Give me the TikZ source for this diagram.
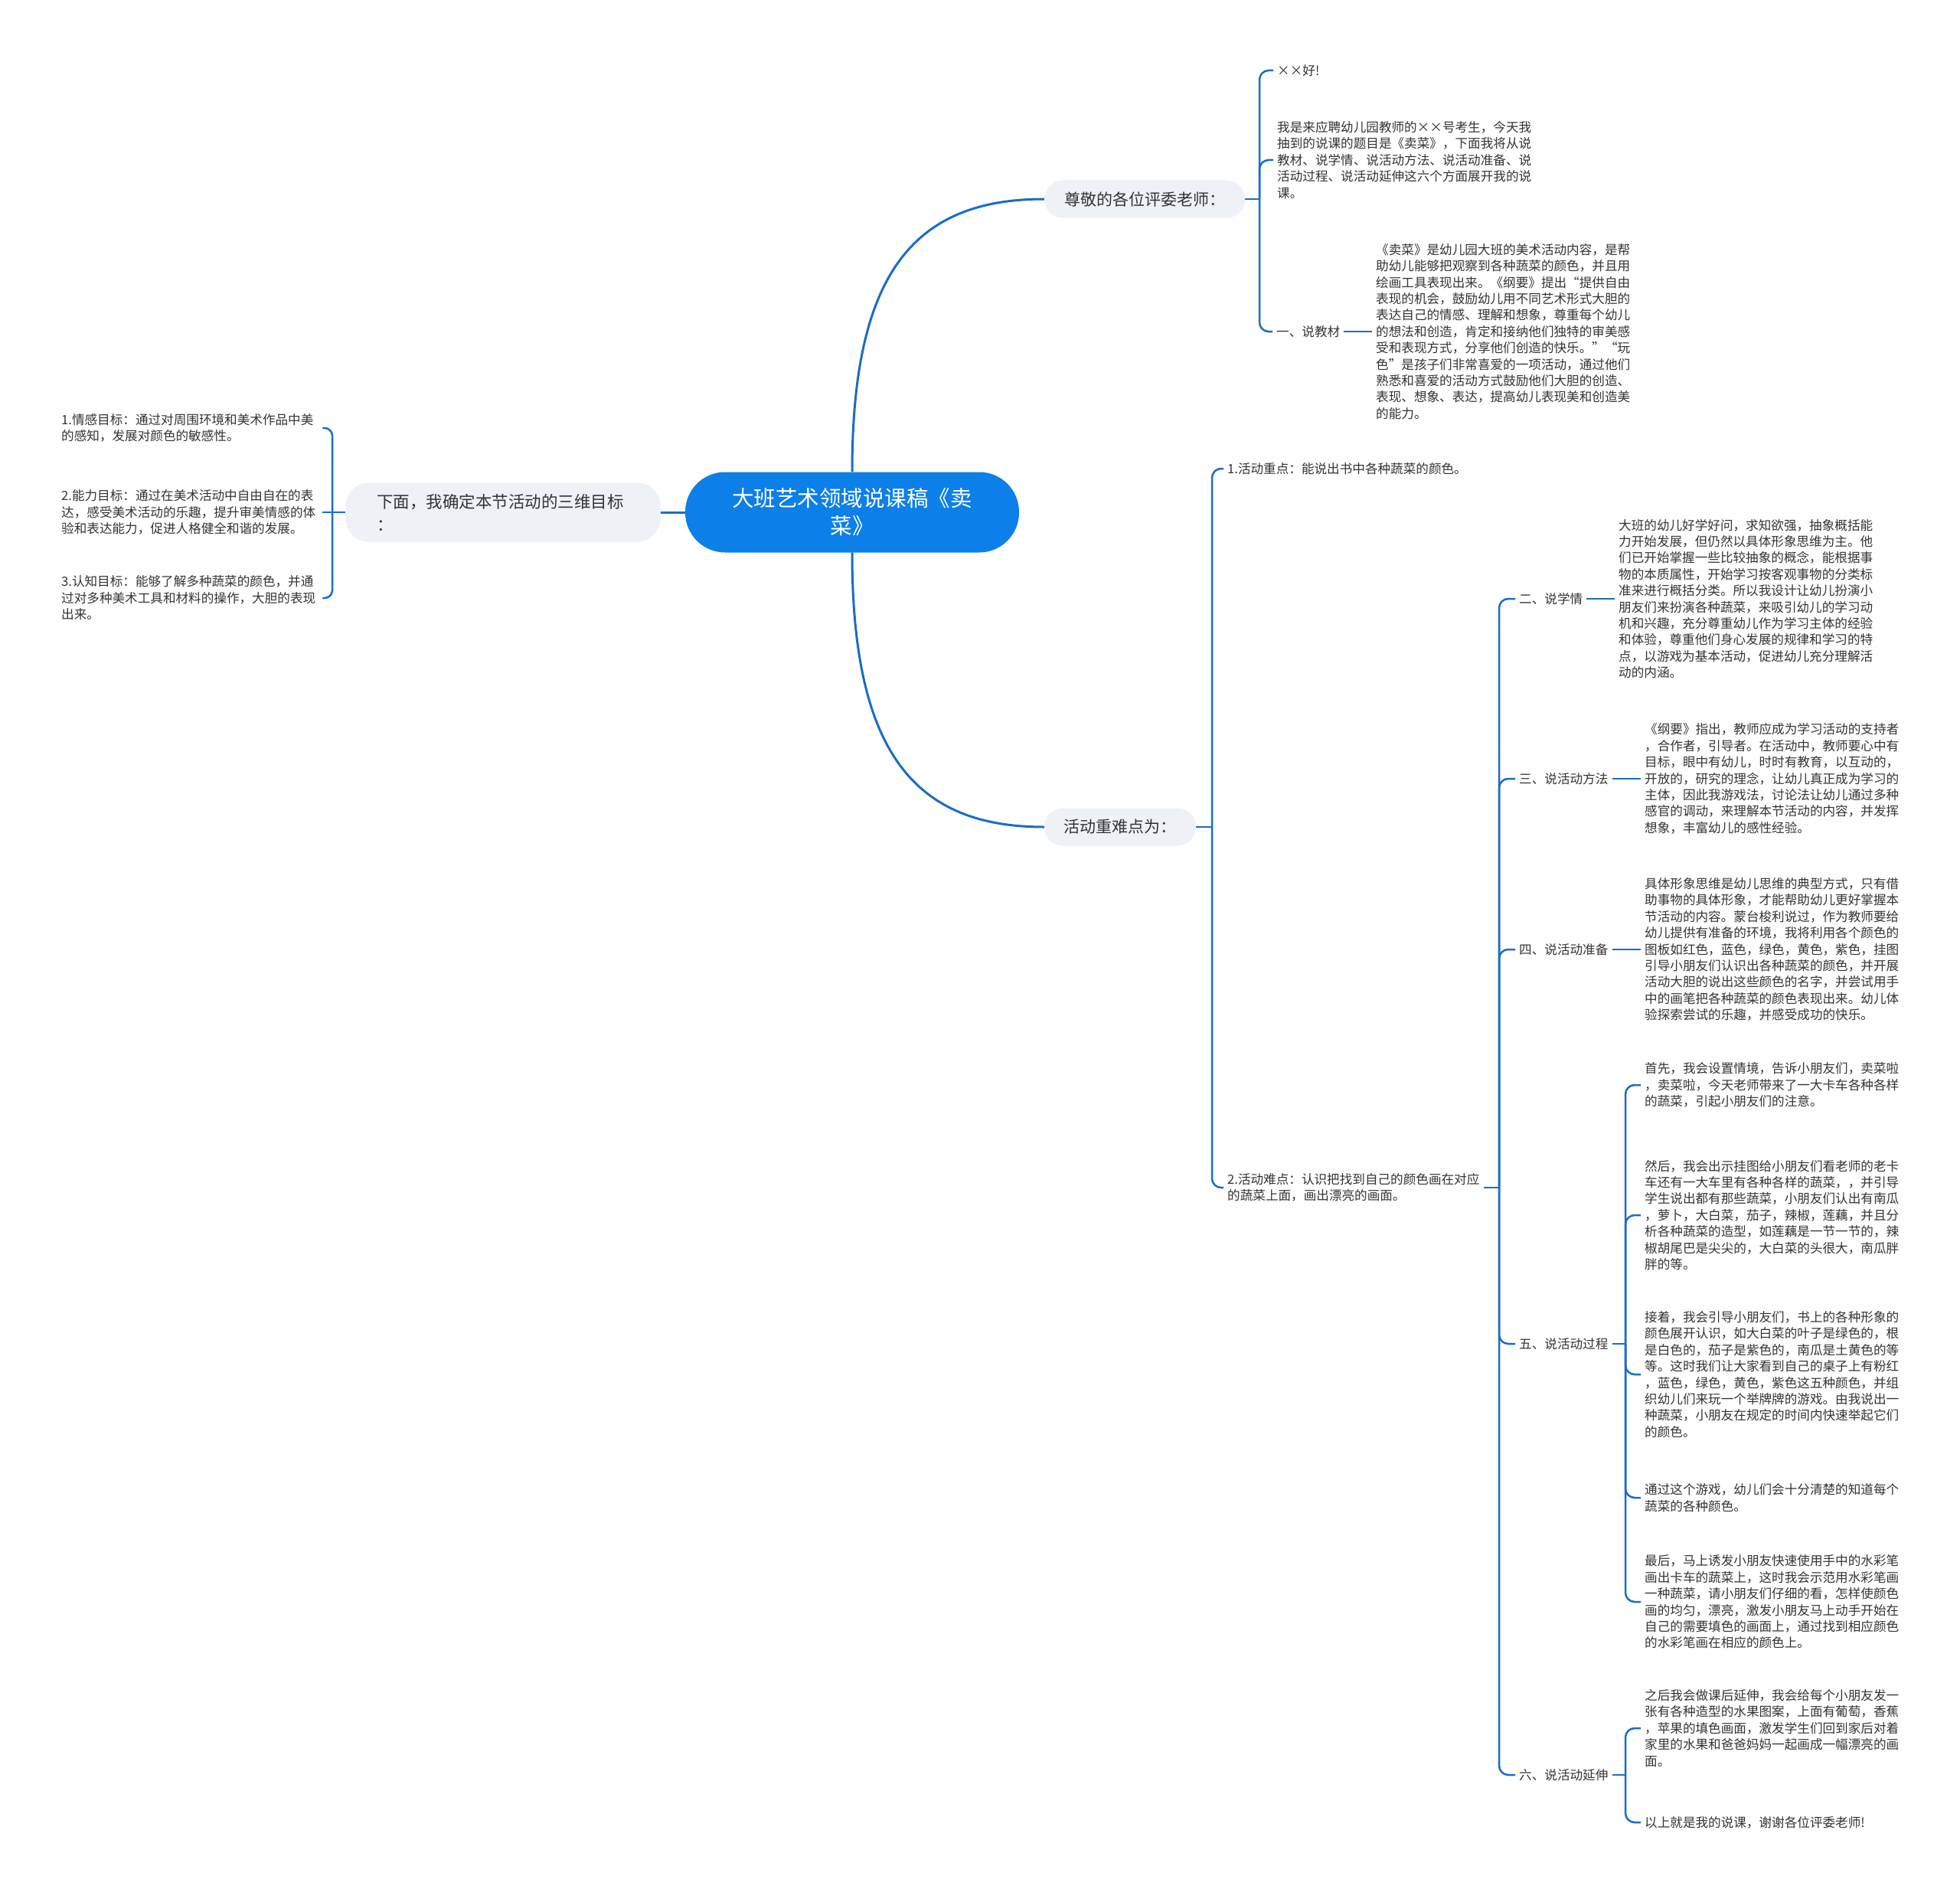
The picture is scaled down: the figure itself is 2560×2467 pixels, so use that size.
\documentclass[tikz,border=0pt]{standalone}
\usepackage{fontspec}
\newfontfamily\cjk{Noto Sans CJK SC}
\usetikzlibrary{calc}
\definecolor{linec}{HTML}{1A6DC6}
\definecolor{rootc}{HTML}{0C7FE8}
\definecolor{boxc}{HTML}{EEF1F6}
\definecolor{txtc}{HTML}{333333}
\begin{document}
\begin{tikzpicture}[x=1pt,y=-1pt,
  root/.style={fill=rootc, text=white, rounded corners=52pt, minimum width=436pt, minimum height=105pt, align=center, inner sep=0pt, font=\cjk\fontsize{28.5}{36}\selectfont},
  hbox/.style={fill=boxc, text=txtc, rounded corners=24pt, minimum height=49pt, inner xsep=0pt, inner ysep=0pt, align=center, font=\cjk\fontsize{21}{28}\selectfont},
  body/.style={text=txtc, align=left, inner xsep=5pt, inner ysep=0pt, anchor=west, font=\cjk\fontsize{16.6}{21.4}\selectfont},
  conn/.style={draw=linec, line width=2.5pt, rounded corners=12pt},
  mainconn/.style={draw=linec, line width=3pt},
]
\fill[white] (0,0) rectangle (2560,2467);
\useasboundingbox (0,0) rectangle (2560,2467);

% central topic
\node[root] (root) at (1113,669) {大班艺术领域说课稿《卖\\菜》};

% main branches
\node[hbox, minimum width=262pt] (t1) at (1495,260) {尊敬的各位评委老师：};
\node[hbox, minimum width=198pt] (t2) at (1463,1080) {活动重难点为：};
\node[hbox, minimum width=411pt, minimum height=77pt, text width=330pt, align=left, rounded corners=30pt, font=\cjk\fontsize{21.5}{30}\selectfont] (goal) at (657,669) {下面，我确定本节活动的三维目标\\：};

\draw[mainconn] (root.north) .. controls +(0,-260) and +(-170,0) .. (t1.west);
\draw[mainconn] (root.south) .. controls +(0,260) and +(-170,0) .. (t2.west);
\draw[mainconn] (root.west) -- (goal.east);

% left: goals
\node[body, text width=336pt] (L1) at (75,559) {1.情感目标：通过对周围环境和美术作品中美\\的感知，发展对颜色的敏感性。};
\node[body, text width=336pt] (L2) at (75,669) {2.能力目标：通过在美术活动中自由自在的表\\达，感受美术活动的乐趣，提升审美情感的体\\验和表达能力，促进人格健全和谐的发展。};
\node[body, text width=336pt] (L3) at (75,781) {3.认知目标：能够了解多种蔬菜的颜色，并通\\过对多种美术工具和材料的操作，大胆的表现\\出来。};
\coordinate (gs) at (434,669);
\draw[conn] (goal.west) -- (gs);
\draw[conn, rounded corners=10pt] (gs) |- (L1.east);
\draw[conn, rounded corners=10pt] (gs) -- (L2.east);
\draw[conn, rounded corners=10pt] (gs) |- (L3.east);

% top right group
\node[body] (A1) at (1663,92) {××好!};
\node[body] (A2) at (1663,209) {我是来应聘幼儿园教师的××号考生，今天我\\抽到的说课的题目是《卖菜》，下面我将从说\\教材、说学情、说活动方法、说活动准备、说\\活动过程、说活动延伸这六个方面展开我的说\\课。};
\node[body] (A3) at (1662,433) {一、说教材};
\node[body] (A4) at (1792,433) {《卖菜》是幼儿园大班的美术活动内容，是帮\\助幼儿能够把观察到各种蔬菜的颜色，并且用\\绘画工具表现出来。《纲要》提出“提供自由\\表现的机会，鼓励幼儿用不同艺术形式大胆的\\表达自己的情感、理解和想象，尊重每个幼儿\\的想法和创造，肯定和接纳他们独特的审美感\\受和表现方式，分享他们创造的快乐。”“玩\\色”是孩子们非常喜爱的一项活动，通过他们\\熟悉和喜爱的活动方式鼓励他们大胆的创造、\\表现、想象、表达，提高幼儿表现美和创造美\\的能力。};
\coordinate (s1) at (1645,260);
\draw[conn] (t1.east) -- (s1);
\draw[conn] (s1) |- (A1.west);
\draw[conn] (s1) |- (A2.west);
\draw[conn] (s1) |- (A3.west);
\draw[conn] (A3.east) -- (A4.west);

% key/difficult points
\node[body] (B1) at (1598,612) {1.活动重点：能说出书中各种蔬菜的颜色。};
\node[body] (B2) at (1598,1551) {2.活动难点：认识把找到自己的颜色画在对应\\的蔬菜上面，画出漂亮的画面。};
\coordinate (s2) at (1583,1080);
\draw[conn] (t2.east) -- (s2);
\draw[conn] (s2) |- (B1.west);
\draw[conn] (s2) |- (B2.west);

% sections
\node[body] (C2) at (1979,782) {二、说学情};
\node[body] (C3) at (1979,1017) {三、说活动方法};
\node[body] (C4) at (1979,1240) {四、说活动准备};
\node[body] (C5) at (1979,1755) {五、说活动过程};
\node[body] (C6) at (1979,2318) {六、说活动延伸};
\coordinate (s3) at (1958,1551);
\draw[conn] (B2.east) -- (s3);
\foreach \c in {C2,C3,C4,C5,C6} { \draw[conn] (s3) |- (\c.west); }

\node[body] (D2) at (2109,782) {大班的幼儿好学好问，求知欲强，抽象概括能\\力开始发展，但仍然以具体形象思维为主。他\\们已开始掌握一些比较抽象的概念，能根据事\\物的本质属性，开始学习按客观事物的分类标\\准来进行概括分类。所以我设计让幼儿扮演小\\朋友们来扮演各种蔬菜，来吸引幼儿的学习动\\机和兴趣，充分尊重幼儿作为学习主体的经验\\和体验，尊重他们身心发展的规律和学习的特\\点，以游戏为基本活动，促进幼儿充分理解活\\动的内涵。};
\node[body] (D3) at (2143,1017) {《纲要》指出，教师应成为学习活动的支持者\\，合作者，引导者。在活动中，教师要心中有\\目标，眼中有幼儿，时时有教育，以互动的，\\开放的，研究的理念，让幼儿真正成为学习的\\主体，因此我游戏法，讨论法让幼儿通过多种\\感官的调动，来理解本节活动的内容，并发挥\\想象，丰富幼儿的感性经验。};
\node[body] (D4) at (2143,1240) {具体形象思维是幼儿思维的典型方式，只有借\\助事物的具体形象，才能帮助幼儿更好掌握本\\节活动的内容。蒙台梭利说过，作为教师要给\\幼儿提供有准备的环境，我将利用各个颜色的\\图板如红色，蓝色，绿色，黄色，紫色，挂图\\引导小朋友们认识出各种蔬菜的颜色，并开展\\活动大胆的说出这些颜色的名字，并尝试用手\\中的画笔把各种蔬菜的颜色表现出来。幼儿体\\验探索尝试的乐趣，并感受成功的快乐。};
\draw[conn] (C2.east) -- (D2.west);
\draw[conn] (C3.east) -- (D3.west);
\draw[conn] (C4.east) -- (D4.west);

% process
\node[body] (E1) at (2143,1417) {首先，我会设置情境，告诉小朋友们，卖菜啦\\，卖菜啦，今天老师带来了一大卡车各种各样\\的蔬菜，引起小朋友们的注意。};
\node[body] (E2) at (2143,1587) {然后，我会出示挂图给小朋友们看老师的老卡\\车还有一大车里有各种各样的蔬菜，，并引导\\学生说出都有那些蔬菜，小朋友们认出有南瓜\\，萝卜，大白菜，茄子，辣椒，莲藕，并且分\\析各种蔬菜的造型，如莲藕是一节一节的，辣\\椒胡尾巴是尖尖的，大白菜的头很大，南瓜胖\\胖的等。};
\node[body] (E3) at (2143,1795) {接着，我会引导小朋友们，书上的各种形象的\\颜色展开认识，如大白菜的叶子是绿色的，根\\是白色的，茄子是紫色的，南瓜是土黄色的等\\等。这时我们让大家看到自己的桌子上有粉红\\，蓝色，绿色，黄色，紫色这五种颜色，并组\\织幼儿们来玩一个举牌牌的游戏。由我说出一\\种蔬菜，小朋友在规定的时间内快速举起它们\\的颜色。};
\node[body] (E4) at (2143,1956) {通过这个游戏，幼儿们会十分清楚的知道每个\\蔬菜的各种颜色。};
\node[body] (E5) at (2143,2092) {最后，马上诱发小朋友快速使用手中的水彩笔\\画出卡车的蔬菜上，这时我会示范用水彩笔画\\一种蔬菜，请小朋友们仔细的看，怎样使颜色\\画的均匀，漂亮，激发小朋友马上动手开始在\\自己的需要填色的画面上，通过找到相应颜色\\的水彩笔画在相应的颜色上。};
\coordinate (s5) at (2123,1755);
\draw[conn] (C5.east) -- (s5);
\foreach \e in {E1,E2,E3,E4,E5} { \draw[conn] (s5) |- (\e.west); }

% extension
\node[body] (F1) at (2143,2257) {之后我会做课后延伸，我会给每个小朋友发一\\张有各种造型的水果图案，上面有葡萄，香蕉\\，苹果的填色画面，激发学生们回到家后对着\\家里的水果和爸爸妈妈一起画成一幅漂亮的画\\面。};
\node[body] (F2) at (2143,2380) {以上就是我的说课，谢谢各位评委老师!};
\coordinate (s6) at (2123,2318);
\draw[conn] (C6.east) -- (s6);
\draw[conn] (s6) |- (F1.west);
\draw[conn] (s6) |- (F2.west);
\end{tikzpicture}
\end{document}
